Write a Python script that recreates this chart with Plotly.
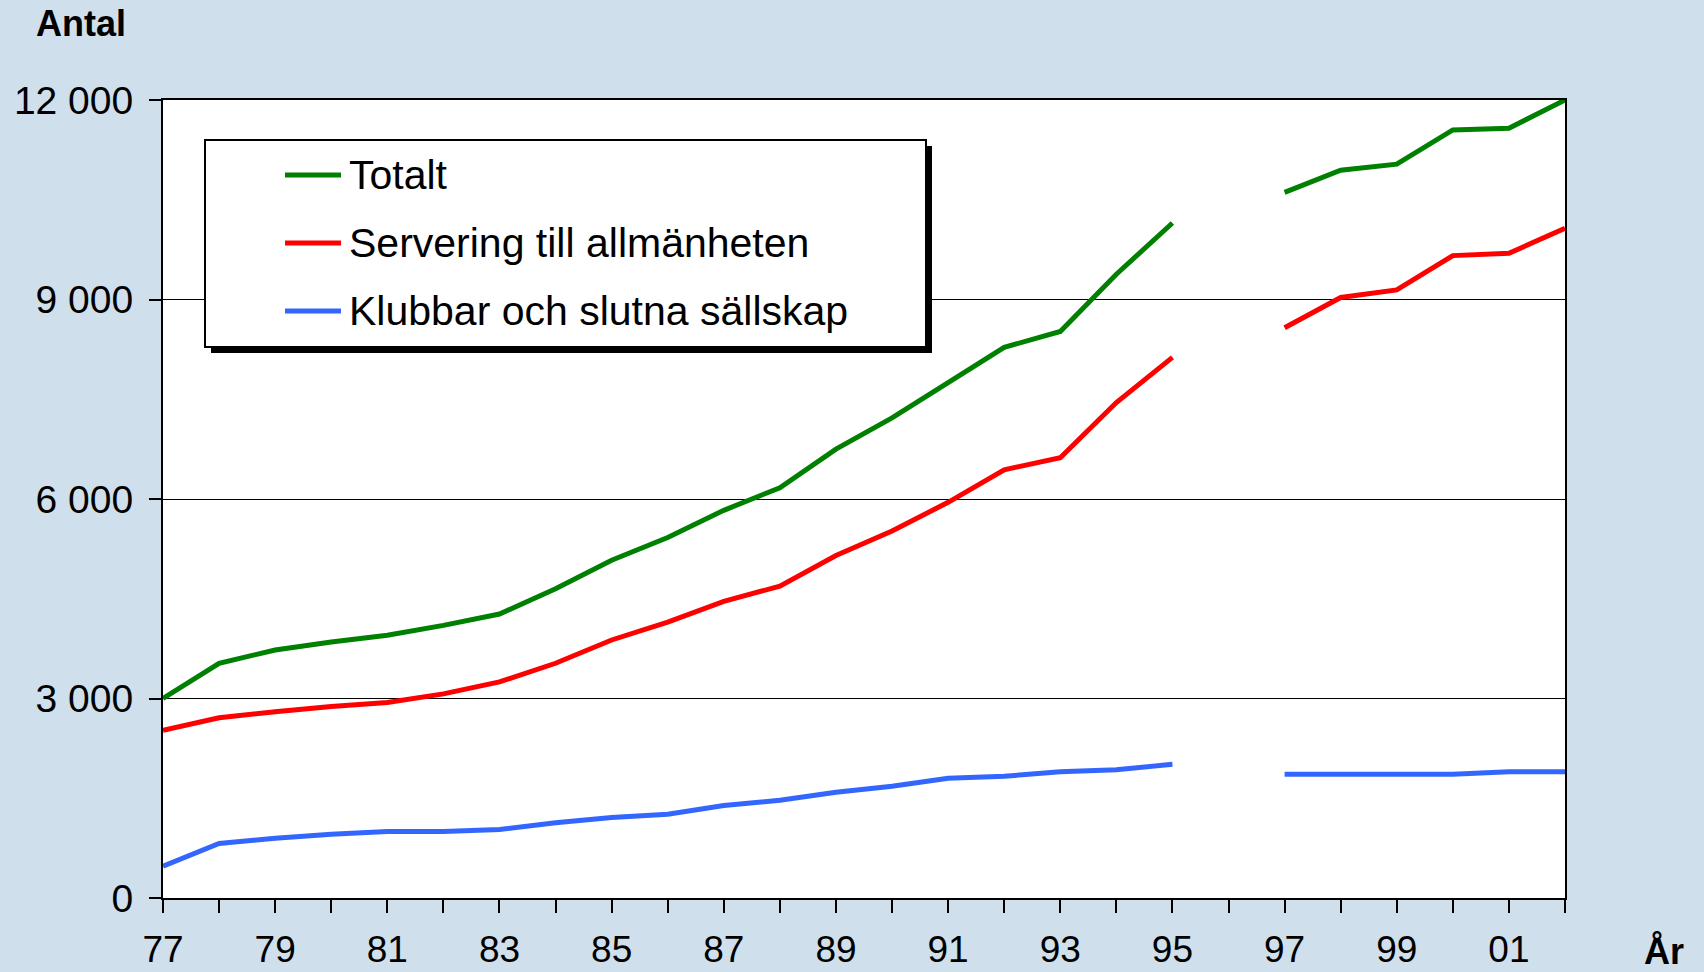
import plotly.graph_objects as go

years = list(range(1977, 2003))
totalt = [3000, 3530, 3730, 3850, 3950, 4100, 4270, 4650, 5080, 5420, 5830, 6170, 6750, 7220,
          7750, 8280, 8520, 9380, 10150, None, 10610, 10945, 11035, 11550, 11575, 12000]
servering = [2520, 2710, 2800, 2880, 2940, 3070, 3250, 3530, 3880, 4150, 4460, 4690, 5150, 5520,
             5950, 6440, 6620, 7450, 8130, None, 8575, 9030, 9145, 9660, 9695, 10070]
klubbar = [480, 820, 900, 960, 1000, 1000, 1030, 1130, 1210, 1260, 1390, 1470, 1590, 1680,
           1800, 1830, 1900, 1930, 2010, None, 1860, 1860, 1860, 1860, 1900, 1900]
series_names = ["Totalt", "Servering till allmänheten", "Klubbar och slutna sällskap"]
series_colors = ["#008000", "#FF0000", "#3366FF"]
x_ticktext = ["77" if y == 1977 else (f"{y % 100:02d}" if y % 2 == 1 else "") for y in years]
y_ticks = [0, 3000, 6000, 9000, 12000]

W, H = 1704, 972
L, R, T, B = 163, 1565, 100, 898
FONT = "Liberation Sans, Arial, sans-serif"

fig = go.Figure()
for name, vals, col in zip(series_names, [totalt, servering, klubbar], series_colors):
    fig.add_trace(go.Scatter(x=years, y=vals, name=name, mode="lines",
                             line=dict(color=col, width=5), connectgaps=False,
                             showlegend=False))

def px_x(p):
    return (p - L) / (R - L)

def px_y(p):
    return (B - p) / (B - T)

shapes = []
# legend shadow and box
shapes.append(dict(type="rect", xref="paper", yref="paper",
                   x0=px_x(211), x1=px_x(932), y0=px_y(353), y1=px_y(146),
                   fillcolor="black", line=dict(width=0), layer="above"))
shapes.append(dict(type="rect", xref="paper", yref="paper",
                   x0=px_x(205), x1=px_x(926), y0=px_y(347), y1=px_y(140),
                   fillcolor="white", line=dict(color="black", width=2), layer="above"))
annotations = []
row_y = [175, 243, 311]
for name, col, ry in zip(series_names, series_colors, row_y):
    shapes.append(dict(type="line", xref="paper", yref="paper",
                       x0=px_x(285), x1=px_x(341), y0=px_y(ry), y1=px_y(ry),
                       line=dict(color=col, width=5), layer="above"))
    annotations.append(dict(text=name, xref="paper", yref="paper", x=px_x(347), y=px_y(ry),
                            xanchor="left", yanchor="middle", showarrow=False,
                            font=dict(family=FONT, size=41, color="black")))

annotations.append(dict(text="<b>Antal</b>", xref="paper", yref="paper",
                        x=px_x(34), y=px_y(24), xanchor="left", yanchor="middle",
                        showarrow=False, font=dict(family=FONT, size=36, color="black")))
annotations.append(dict(text="<b>År</b>", xref="paper", yref="paper",
                        x=px_x(1664), y=px_y(951), xanchor="center", yanchor="middle",
                        showarrow=False, font=dict(family=FONT, size=36, color="black")))

fig.update_layout(
    width=W, height=H,
    margin=dict(l=L, r=W - R, t=T, b=H - B, pad=0, autoexpand=False),
    paper_bgcolor="#CFDFEB", plot_bgcolor="white",
    font=dict(family=FONT, size=37, color="black"),
    separators=", ",
    shapes=shapes, annotations=annotations,
    showlegend=False,
)
fig.update_xaxes(range=[1977, 2002], tickmode="array", tickvals=years, ticktext=x_ticktext,
                 ticks="outside", ticklen=13, tickwidth=2, tickcolor="black",
                 showline=True, linecolor="black", linewidth=2, mirror=True,
                 showgrid=False, zeroline=False, ticklabelstandoff=5, automargin=False,
                 tickfont=dict(family=FONT, size=37, color="black"))
fig.update_yaxes(range=[0, 12000], tickmode="array", tickvals=y_ticks, tickformat=",d",
                 ticks="outside", ticklen=12, tickwidth=2, tickcolor="black",
                 showline=True, linecolor="black", linewidth=2, mirror=True,
                 showgrid=True, gridcolor="black", gridwidth=1, zeroline=False,
                 ticklabelstandoff=8, automargin=False,
                 tickfont=dict(family=FONT, size=39, color="black"))

fig.write_html("out.html", config={"displayModeBar": False},
               post_script="document.body.style.margin='0';document.body.style.overflow='hidden';")
